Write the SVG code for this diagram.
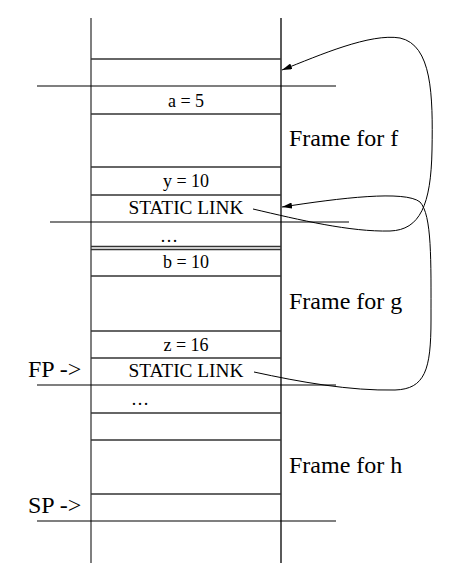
<svg xmlns="http://www.w3.org/2000/svg" width="454" height="583" viewBox="0 0 454 583">
<style>
.cell{stroke:#333;stroke-width:1.3}
.full{stroke:#000;stroke-width:1.2}
.t{font-family:"Liberation Serif","Times New Roman",serif;font-size:18px;fill:#000;text-anchor:middle}
.big{font-family:"Liberation Serif","Times New Roman",serif;font-size:24px;fill:#000}
.link{fill:none;stroke:#000;stroke-width:1}
</style>
<defs>
<marker id="ah" viewBox="0 0 10 6" refX="10" refY="3" markerWidth="10" markerHeight="6" markerUnits="userSpaceOnUse" orient="auto">
<path d="M0,0 L10,3 L0,6 Z" fill="#000"/>
</marker>
</defs>
<rect width="454" height="583" fill="#fff"/>
<g id="stack">
<line x1="91" y1="18" x2="91" y2="563" stroke="#555" stroke-width="1.5"/>
<line x1="281" y1="18" x2="281" y2="563" stroke="#000" stroke-width="1.3"/>
<line class="cell" x1="91" y1="59" x2="281" y2="59" stroke="#777"/>
<line class="cell" x1="91" y1="114" x2="281" y2="114"/>
<line class="cell" x1="91" y1="167" x2="281" y2="167"/>
<line class="cell" x1="91" y1="195" x2="281" y2="195"/>
<line class="cell" x1="91" y1="246.5" x2="281" y2="246.5"/>
<line class="cell" x1="91" y1="249.5" x2="281" y2="249.5"/>
<line class="cell" x1="91" y1="276" x2="281" y2="276"/>
<line class="cell" x1="91" y1="331" x2="281" y2="331"/>
<line class="cell" x1="91" y1="358" x2="281" y2="358"/>
<line class="cell" x1="91" y1="413" x2="281" y2="413"/>
<line class="cell" x1="91" y1="440" x2="281" y2="440"/>
<line class="cell" x1="91" y1="494" x2="281" y2="494"/>
<line class="full" x1="37" y1="86" x2="336" y2="86"/>
<line class="full" x1="50" y1="222" x2="349" y2="222"/>
<line class="full" x1="37" y1="385" x2="336" y2="385"/>
<line class="full" x1="37" y1="521" x2="336" y2="521"/>
</g>
<g id="cells">
<text class="t" x="186" y="107">a = 5</text>
<text class="t" x="186" y="187">y = 10</text>
<text class="t" x="186" y="214" textLength="115" lengthAdjust="spacingAndGlyphs">STATIC LINK</text>
<text class="t" x="169" y="242">…</text>
<text class="t" x="186" y="268">b = 10</text>
<text class="t" x="186" y="351">z = 16</text>
<text class="t" x="186" y="377" textLength="115" lengthAdjust="spacingAndGlyphs">STATIC LINK</text>
<text class="t" x="140" y="405">…</text>
</g>
<g id="labels">
<text class="big" x="289" y="146">Frame for f</text>
<text class="big" x="289" y="309">Frame for g</text>
<text class="big" x="289" y="473">Frame for h</text>
<text class="big" x="28" y="377">FP -&gt;</text>
<text class="big" x="28" y="513">SP -&gt;</text>
</g>
<g id="connectors">
<path class="link" marker-end="url(#ah)" d="M253,209 C300,220 350,232 390,231 C420,230 431,205 432,150 C433,95 432,45 400,38 C370,33 320,55 282,70"/>
<path class="link" marker-end="url(#ah)" d="M254,372 C300,382 350,391 395,390 C425,389 431,370 431,320 C431,260 432,215 420,202 C405,190 340,198 282,207"/>
</g>
</svg>
